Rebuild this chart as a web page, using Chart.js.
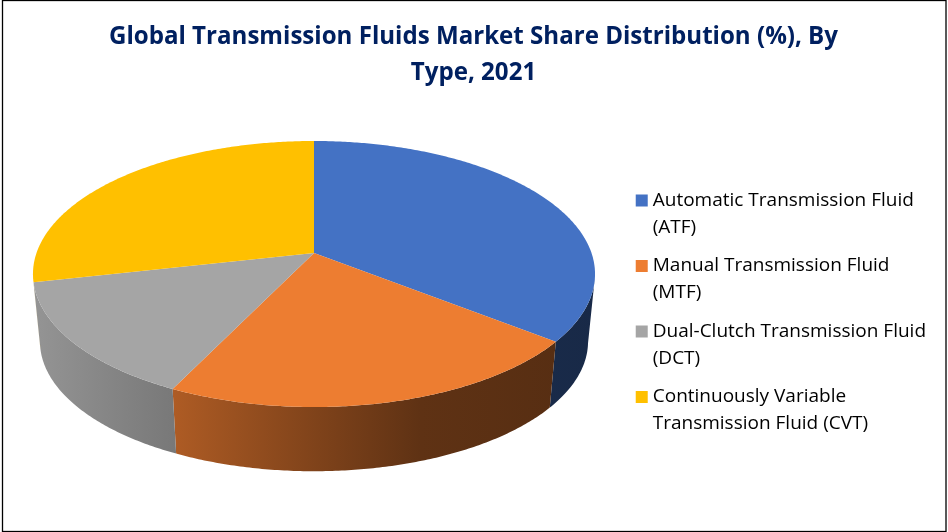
<!DOCTYPE html>
<html>
<head>
<meta charset="utf-8">
<title>Transmission Fluids Market Share</title>
<script src="https://cdn.jsdelivr.net/npm/chart.js@4"></script>
<style>
  html, body { margin: 0; padding: 0; background: #fff; }
  #wrap { position: absolute; left: 0; top: 0; width: 948px; height: 532px; }
</style>
</head>
<body>
<div id="wrap"><canvas id="chart"></canvas></div>
<script>
// values
const categories = [
  ['Automatic Transmission Fluid', '(ATF)'],
  ['Manual Transmission Fluid', '(MTF)'],
  ['Dual-Clutch Transmission Fluid', '(DCT)'],
  ['Continuously Variable', 'Transmission Fluid (CVT)']
];
const shares = [35.6, 21.6, 14.3, 28.5];
const sliceColors = ['#4472C4', '#ED7D31', '#A5A5A5', '#FFC000'];
const titleLines = ['Global Transmission Fluids Market Share Distribution (%), By', 'Type, 2021'];

// perspective of the disc: top face and (slightly smaller) bottom face
const top3d = { cx: 314, cy: 253, a: 277.5, b: 129.7, k: 0.158 };
const bottom3d = { cx: 314, cy: 321, a: 270.6, b: 126.5, k: 0.158 };
const wallFrom = 100 * Math.PI / 180;  // silhouette of the wall, right
const wallTo = 258 * Math.PI / 180;    // and left
const wallShade = [[30, 0.9], [176, 0.73], [320, 0.53], [420, 0.4], [600, 0.36]];

function project(face, theta) {
  const u = Math.sin(theta), v = -Math.cos(theta);
  const w = 1 - face.k * v;
  return [face.cx + face.a * u / w, face.cy + face.b * v / w];
}

function tracePath(ctx, face, from, to) {
  const steps = Math.max(2, Math.ceil(Math.abs(to - from) / 0.01));
  for (let i = 0; i <= steps; i++) {
    const p = project(face, from + (to - from) * i / steps);
    ctx.lineTo(p[0], p[1]);
  }
}

function darken(hex, f) {
  const n = parseInt(hex.slice(1), 16);
  return 'rgb(' + [(n >> 16) & 255, (n >> 8) & 255, n & 255].map(c => Math.round(c * f)).join(',') + ')';
}

// the arcs of the pie controller give the angles, this draws them in 3D
const pie3d = {
  id: 'pie3d',
  beforeDatasetsDraw(chart) {
    const ctx = chart.ctx;
    const arcs = chart.getDatasetMeta(0).data;
    const angle = a => a.startAngle + Math.PI / 2;

    arcs.forEach((arc, i) => {
      const from = Math.max(angle(arc), wallFrom);
      const to = Math.min(arc.endAngle + Math.PI / 2, wallTo);
      if (to <= from) return;
      const grad = ctx.createLinearGradient(wallShade[0][0], 0, wallShade[wallShade.length - 1][0], 0);
      const x0 = wallShade[0][0], x1 = wallShade[wallShade.length - 1][0];
      wallShade.forEach(s => grad.addColorStop((s[0] - x0) / (x1 - x0), darken(sliceColors[i], s[1])));
      ctx.beginPath();
      tracePath(ctx, top3d, from, to);
      tracePath(ctx, bottom3d, to, from);
      ctx.closePath();
      ctx.fillStyle = grad;
      ctx.fill();
    });

    arcs.forEach((arc, i) => {
      const start = angle(arc), end = arc.endAngle + Math.PI / 2;
      ctx.beginPath();
      ctx.moveTo(top3d.cx, top3d.cy);
      tracePath(ctx, top3d, start, end);
      ctx.closePath();
      ctx.fillStyle = sliceColors[i];
      ctx.fill();
    });
    return false;
  },
  afterDraw(chart) {
    const ctx = chart.ctx;
    ctx.save();
    ctx.strokeStyle = '#000';
    ctx.lineWidth = 1.3;
    ctx.strokeRect(2.5, 0.5, 943.5, 531);
    ctx.restore();
  }
};

new Chart(document.getElementById('chart'), {
  type: 'pie',
  data: {
    labels: categories,
    datasets: [{ data: shares, backgroundColor: sliceColors, borderWidth: 0 }]
  },
  plugins: [pie3d],
  options: {
    responsive: true,
    maintainAspectRatio: false,
    animation: false,
    layout: { padding: { left: 11, right: 12 } },
    plugins: {
      tooltip: { enabled: false },
      title: {
        display: true,
        text: titleLines,
        color: '#002060',
        font: { family: '"Open Sans"', size: 24.1, weight: 'bold', lineHeight: 1.46 },
        padding: { top: 20, bottom: 10 }
      },
      legend: {
        position: 'right',
        fullSize: false,
        labels: {
          // small box + thick border: keeps the 12px square close to the text
          boxWidth: 3,
          boxHeight: 3,
          padding: 11.5,
          color: '#1a1a1a',
          font: { family: '"Open Sans"', size: 19, lineHeight: 27 / 19 },
          generateLabels: chart => categories.map((c, i) => ({
            text: c, fillStyle: sliceColors[i], strokeStyle: sliceColors[i], lineWidth: 9, index: i
          }))
        }
      }
    }
  }
});
</script>
</body>
</html>
